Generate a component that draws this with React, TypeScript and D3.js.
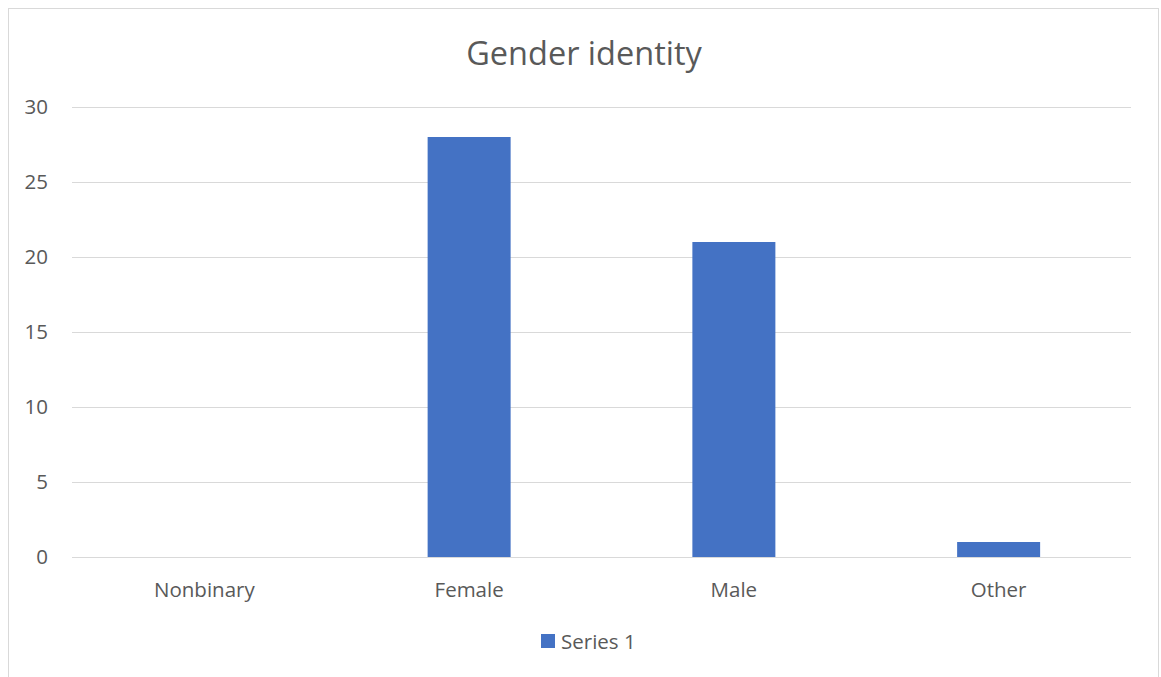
import React from "react";
import * as d3 from "d3";

const categories = ["Nonbinary", "Female", "Male", "Other"];
const series1 = [0, 28, 21, 1];
const yTicks = [0, 5, 10, 15, 20, 25, 30];
const title = "Gender identity";
const seriesName = "Series 1";

const W = 1161;
const H = 677;
const FONT = "'Open Sans', 'Noto Sans', sans-serif";
const TEXT = "#595959";
const BAR = "#4472C4";

export default function App() {
  const x = d3.scaleBand<string>().domain(categories).range([72, 1131]).paddingInner(0.6865).paddingOuter(0.6865 / 2);
  const y = d3.scaleLinear().domain([0, 30]).range([557, 107]);
  return (
    <div style={{ position: "absolute", left: 0, top: 0 }}>
      <svg width={W} height={H} style={{ display: "block", background: "#fff" }}>
        <rect x={8.5} y={8.5} width={1150} height={700} fill="#fff" stroke="#d9d9d9" strokeWidth={1} />
        <text x={584} y={65} textAnchor="middle" fontFamily={FONT} fontSize={32.5} fill={TEXT}>{title}</text>
        {yTicks.map((t) => (
          <g key={t}>
            <line x1={72} x2={1131} y1={Math.round(y(t)) + 0.5} y2={Math.round(y(t)) + 0.5} stroke="#d9d9d9" strokeWidth={1.2} />
            <text x={48} y={y(t) + 7} textAnchor="end" fontFamily={FONT} fontSize={20.5} fill={TEXT}>{t}</text>
          </g>
        ))}
        {categories.map((c, i) => (
          <g key={c}>
            {series1[i] > 0 && (
              <rect x={x(c)} y={y(series1[i])} width={x.bandwidth()} height={y(0) - y(series1[i])} fill={BAR} />
            )}
            <text x={(x(c) as number) + x.bandwidth() / 2} y={597} textAnchor="middle" fontFamily={FONT} fontSize={20.5} fill={TEXT}>{c}</text>
          </g>
        ))}
        <rect x={541} y={634} width={14} height={14} fill={BAR} />
        <text x={561} y={649} fontFamily={FONT} fontSize={20.5} fill={TEXT}>{seriesName}</text>
      </svg>
    </div>
  );
}
